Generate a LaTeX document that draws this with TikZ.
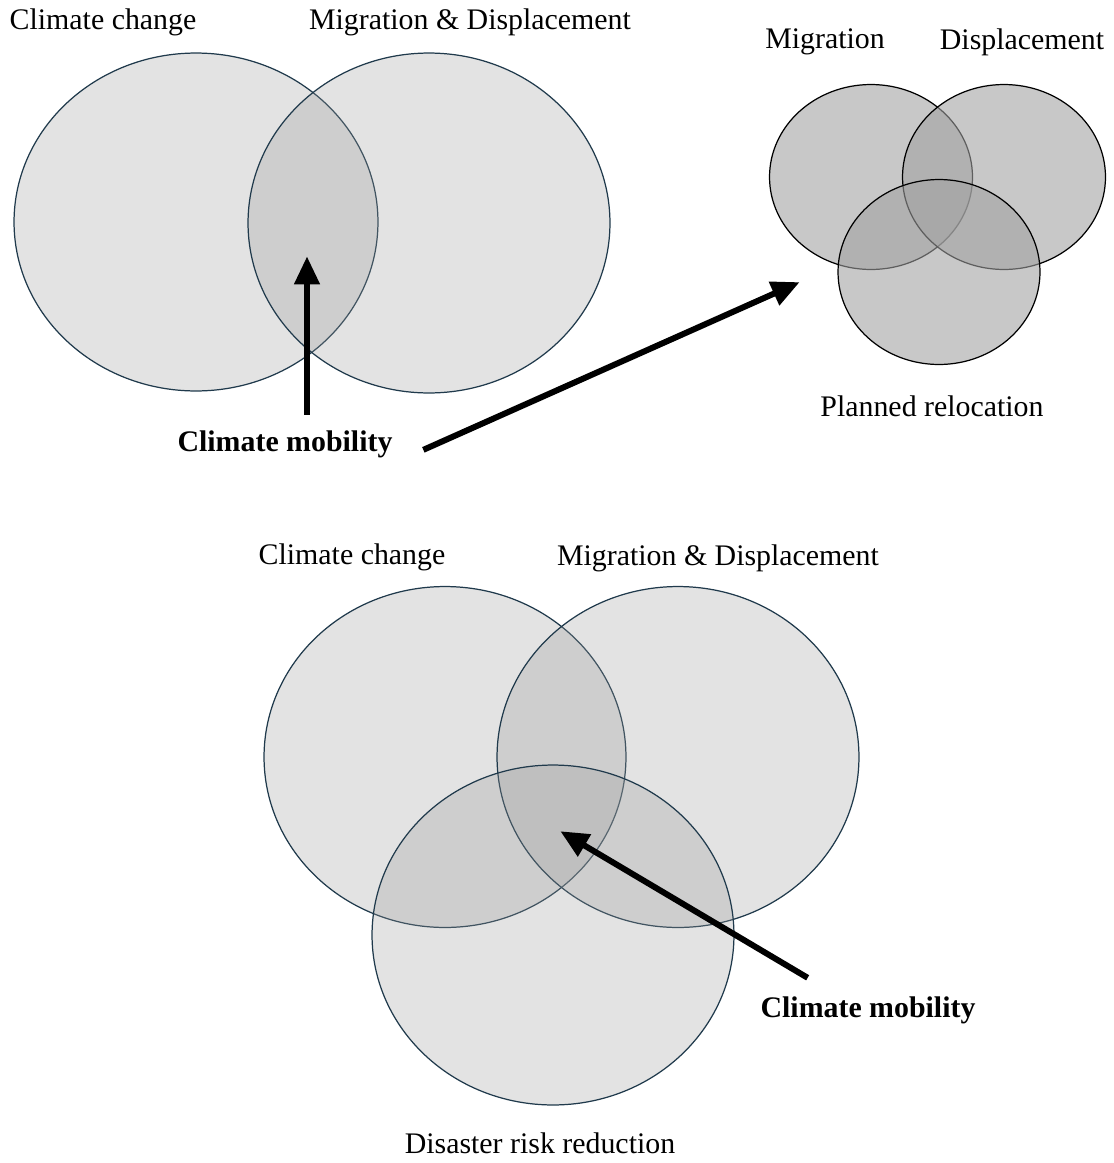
\documentclass[tikz,border=0pt]{standalone}
\usepackage{fontspec}
\setmainfont{Liberation Serif}
\usepackage{tikz}
\usetikzlibrary{shapes.geometric,arrows.meta}
\definecolor{rimblue}{HTML}{203A4C}
\tikzset{empty/.style={draw=none, fill=none, minimum size=0mm, inner sep=0mm}}
\tikzset{venn/.style={ellipse, draw=rimblue, line width=0.7pt, fill=black!40, fill opacity=0.28, inner sep=0mm}}
\tikzset{vennsmall/.style={ellipse, draw=black, line width=0.7pt, fill=black!37, fill opacity=0.59, inner sep=0mm}}
\tikzset{tag/.style={draw=none, fill=none, inner sep=0mm, font=\fontsize{17}{20}\selectfont}}
\tikzset{pointer/.style={line width=3.4pt, -{Triangle[length=16pt, width=14pt]}}}

\begin{document}
\begin{tikzpicture}[x=0.02cm, y=-0.02cm]
    \useasboundingbox (0,0) rectangle (1114,1163);

    % upper pair
    \node (cc1) at (196,222) [venn, minimum width=7.28cm, minimum height=6.76cm] {};
    \node (md1) at (429,223) [venn, minimum width=7.24cm, minimum height=6.8cm] {};
    \node (cct1) at (103,22) [tag] {Climate change};
    \node (mdt1) at (470,22) [tag] {Migration \& Displacement};

    % small triple
    \node (mig) at (871,177) [vennsmall, minimum width=4.06cm, minimum height=3.7cm] {};
    \node (dis) at (1004,177) [vennsmall, minimum width=4.06cm, minimum height=3.7cm] {};
    \node (rel) at (939,272) [vennsmall, minimum width=4.04cm, minimum height=3.7cm] {};
    \node (migt) at (825,42) [tag] {Migration};
    \node (dist) at (1022,42) [tag] {Displacement};
    \node (relt) at (932,406) [tag] {Planned relocation};

    \node (mob1) at (285,444) [tag, font=\fontsize{17}{20}\selectfont\bfseries] {Climate mobility};
    \node (up1) [empty] at (307,415) {};
    \node (tip1) [empty] at (307,256) {};
    \node (ar2s) [empty] at (423,450) {};
    \node (ar2e) [empty] at (800,282) {};

    \draw (up1) edge[pointer] (tip1);
    \draw (ar2s) edge[pointer] (ar2e);

    % lower triple
    \node (cc2) at (445,757) [venn, minimum width=7.24cm, minimum height=6.82cm] {};
    \node (md2) at (678,757) [venn, minimum width=7.24cm, minimum height=6.82cm] {};
    \node (drr) at (553,935) [venn, minimum width=7.24cm, minimum height=6.8cm] {};
    \node (cct2) at (352,557) [tag] {Climate change};
    \node (mdt2) at (718,558) [tag] {Migration \& Displacement};
    \node (drrt) at (540,1143) [tag] {Disaster risk reduction};

    \node (mob2) at (868,1010) [tag, font=\fontsize{17}{20}\selectfont\bfseries] {Climate mobility};
    \node (ar3s) [empty] at (808,978) {};
    \node (ar3e) [empty] at (560,831) {};

    \draw (ar3s) edge[pointer] (ar3e);
\end{tikzpicture}
\end{document}
